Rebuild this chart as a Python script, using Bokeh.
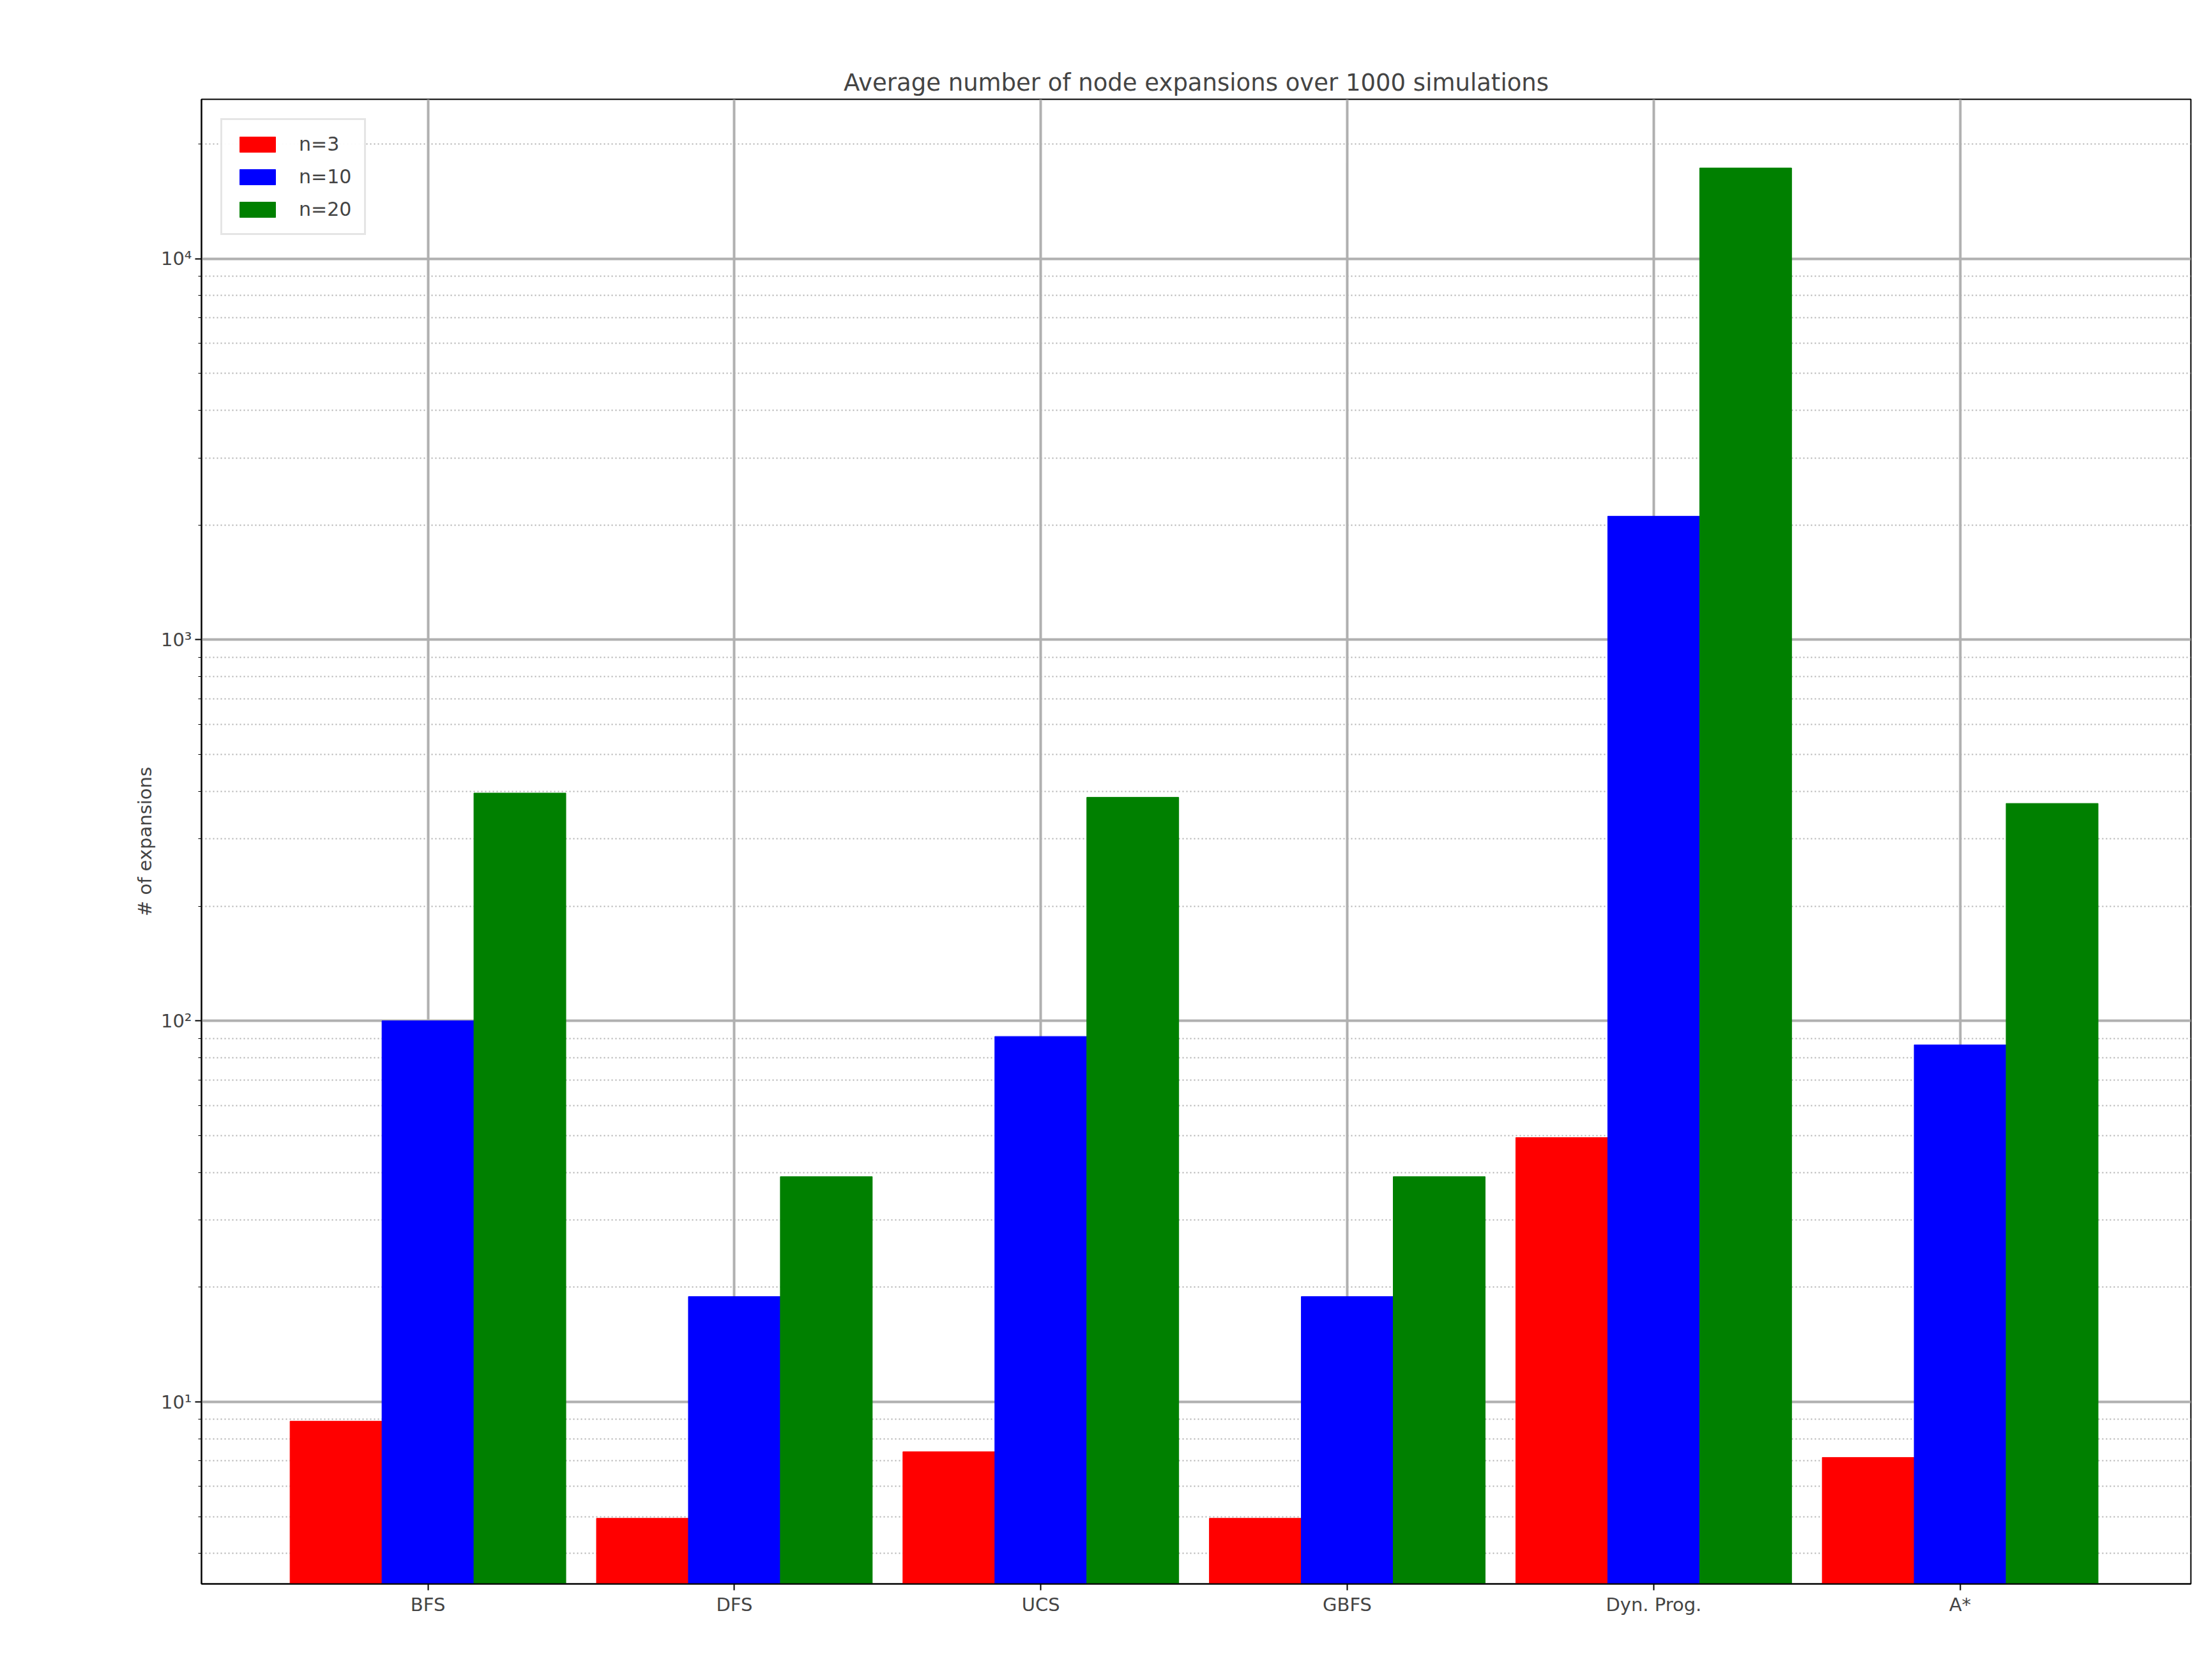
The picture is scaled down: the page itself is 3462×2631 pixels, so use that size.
from bokeh.plotting import figure
from bokeh.models import FixedTicker, Range1d, Legend, LegendItem
from bokeh.embed import file_html
from bokeh.resources import INLINE

categories = ["BFS", "DFS", "UCS", "GBFS", "Dyn. Prog.", "A*"]
n3 = [8.9, 4.95, 7.4, 4.95, 49.4, 7.15]
n10 = [100, 18.9, 91, 18.9, 2110, 86.5]
n20 = [396, 39, 386, 39, 17300, 372]
series = [("n=3", n3, "red", -0.3), ("n=10", n10, "blue", 0.0), ("n=20", n20, "green", 0.3)]

F = "DejaVu Sans"
p = figure(width=3440, height=2610, output_backend="svg", toolbar_location=None,
           y_axis_type="log", title="Average number of node expansions over 1000 simulations",
           x_range=Range1d(-0.739, 5.753), y_range=Range1d(3.33, 26200),
           min_border_left=315, min_border_right=10, min_border_top=155, min_border_bottom=130)
p.title.align = "center"
p.title.text_font = F
p.title.text_font_size = "37px"
p.title.text_font_style = "normal"

items = []
xs = list(range(len(categories)))
for name, vals, col, off in series:
    r = p.vbar(x=[x + off for x in xs], top=vals, bottom=1, width=0.3, color=col)
    items.append(LegendItem(label=name, renderers=[r]))

leg = Legend(items=items, location="top_left", label_text_font=F, label_text_font_size="30px",
             glyph_width=70, glyph_height=30, label_standoff=30, spacing=16, padding=20,
             margin=30, border_line_color="#cccccc", border_line_width=3)
p.add_layout(leg)

p.xaxis.ticker = FixedTicker(ticks=xs)
p.xaxis.major_label_overrides = {i: c for i, c in enumerate(categories)}
minor = [m * 10**e for e in range(0, 5) for m in range(2, 10)]
p.yaxis.ticker = FixedTicker(ticks=[1, 10, 100, 1000, 10000], minor_ticks=minor)
p.yaxis.major_label_overrides = {1: "10⁰", 10: "10¹", 100: "10²", 1000: "10³", 10000: "10⁴"}
p.yaxis.axis_label = "# of expansions"
for ax in (p.xaxis[0], p.yaxis[0]):
    ax.major_label_text_font = F
    ax.major_label_text_font_size = "29px"
    ax.axis_label_text_font = F
    ax.axis_label_text_font_size = "29px"
    ax.axis_label_text_font_style = "normal"
    ax.major_tick_line_width = 2
    ax.axis_line_width = 2
    ax.major_tick_out = 10
    ax.major_tick_in = 0
p.yaxis.minor_tick_out = 5
p.yaxis.minor_tick_in = 0

p.outline_line_color = "black"
p.outline_line_width = 2
p.xgrid.grid_line_color = "#b0b0b0"
p.xgrid.grid_line_width = 4
p.ygrid.grid_line_color = "#b0b0b0"
p.ygrid.grid_line_width = 4
p.ygrid.minor_grid_line_color = "#b0b0b0"
p.ygrid.minor_grid_line_dash = "2 4"
p.ygrid.minor_grid_line_width = 2

open("out.html", "w").write(file_html(p, INLINE))
